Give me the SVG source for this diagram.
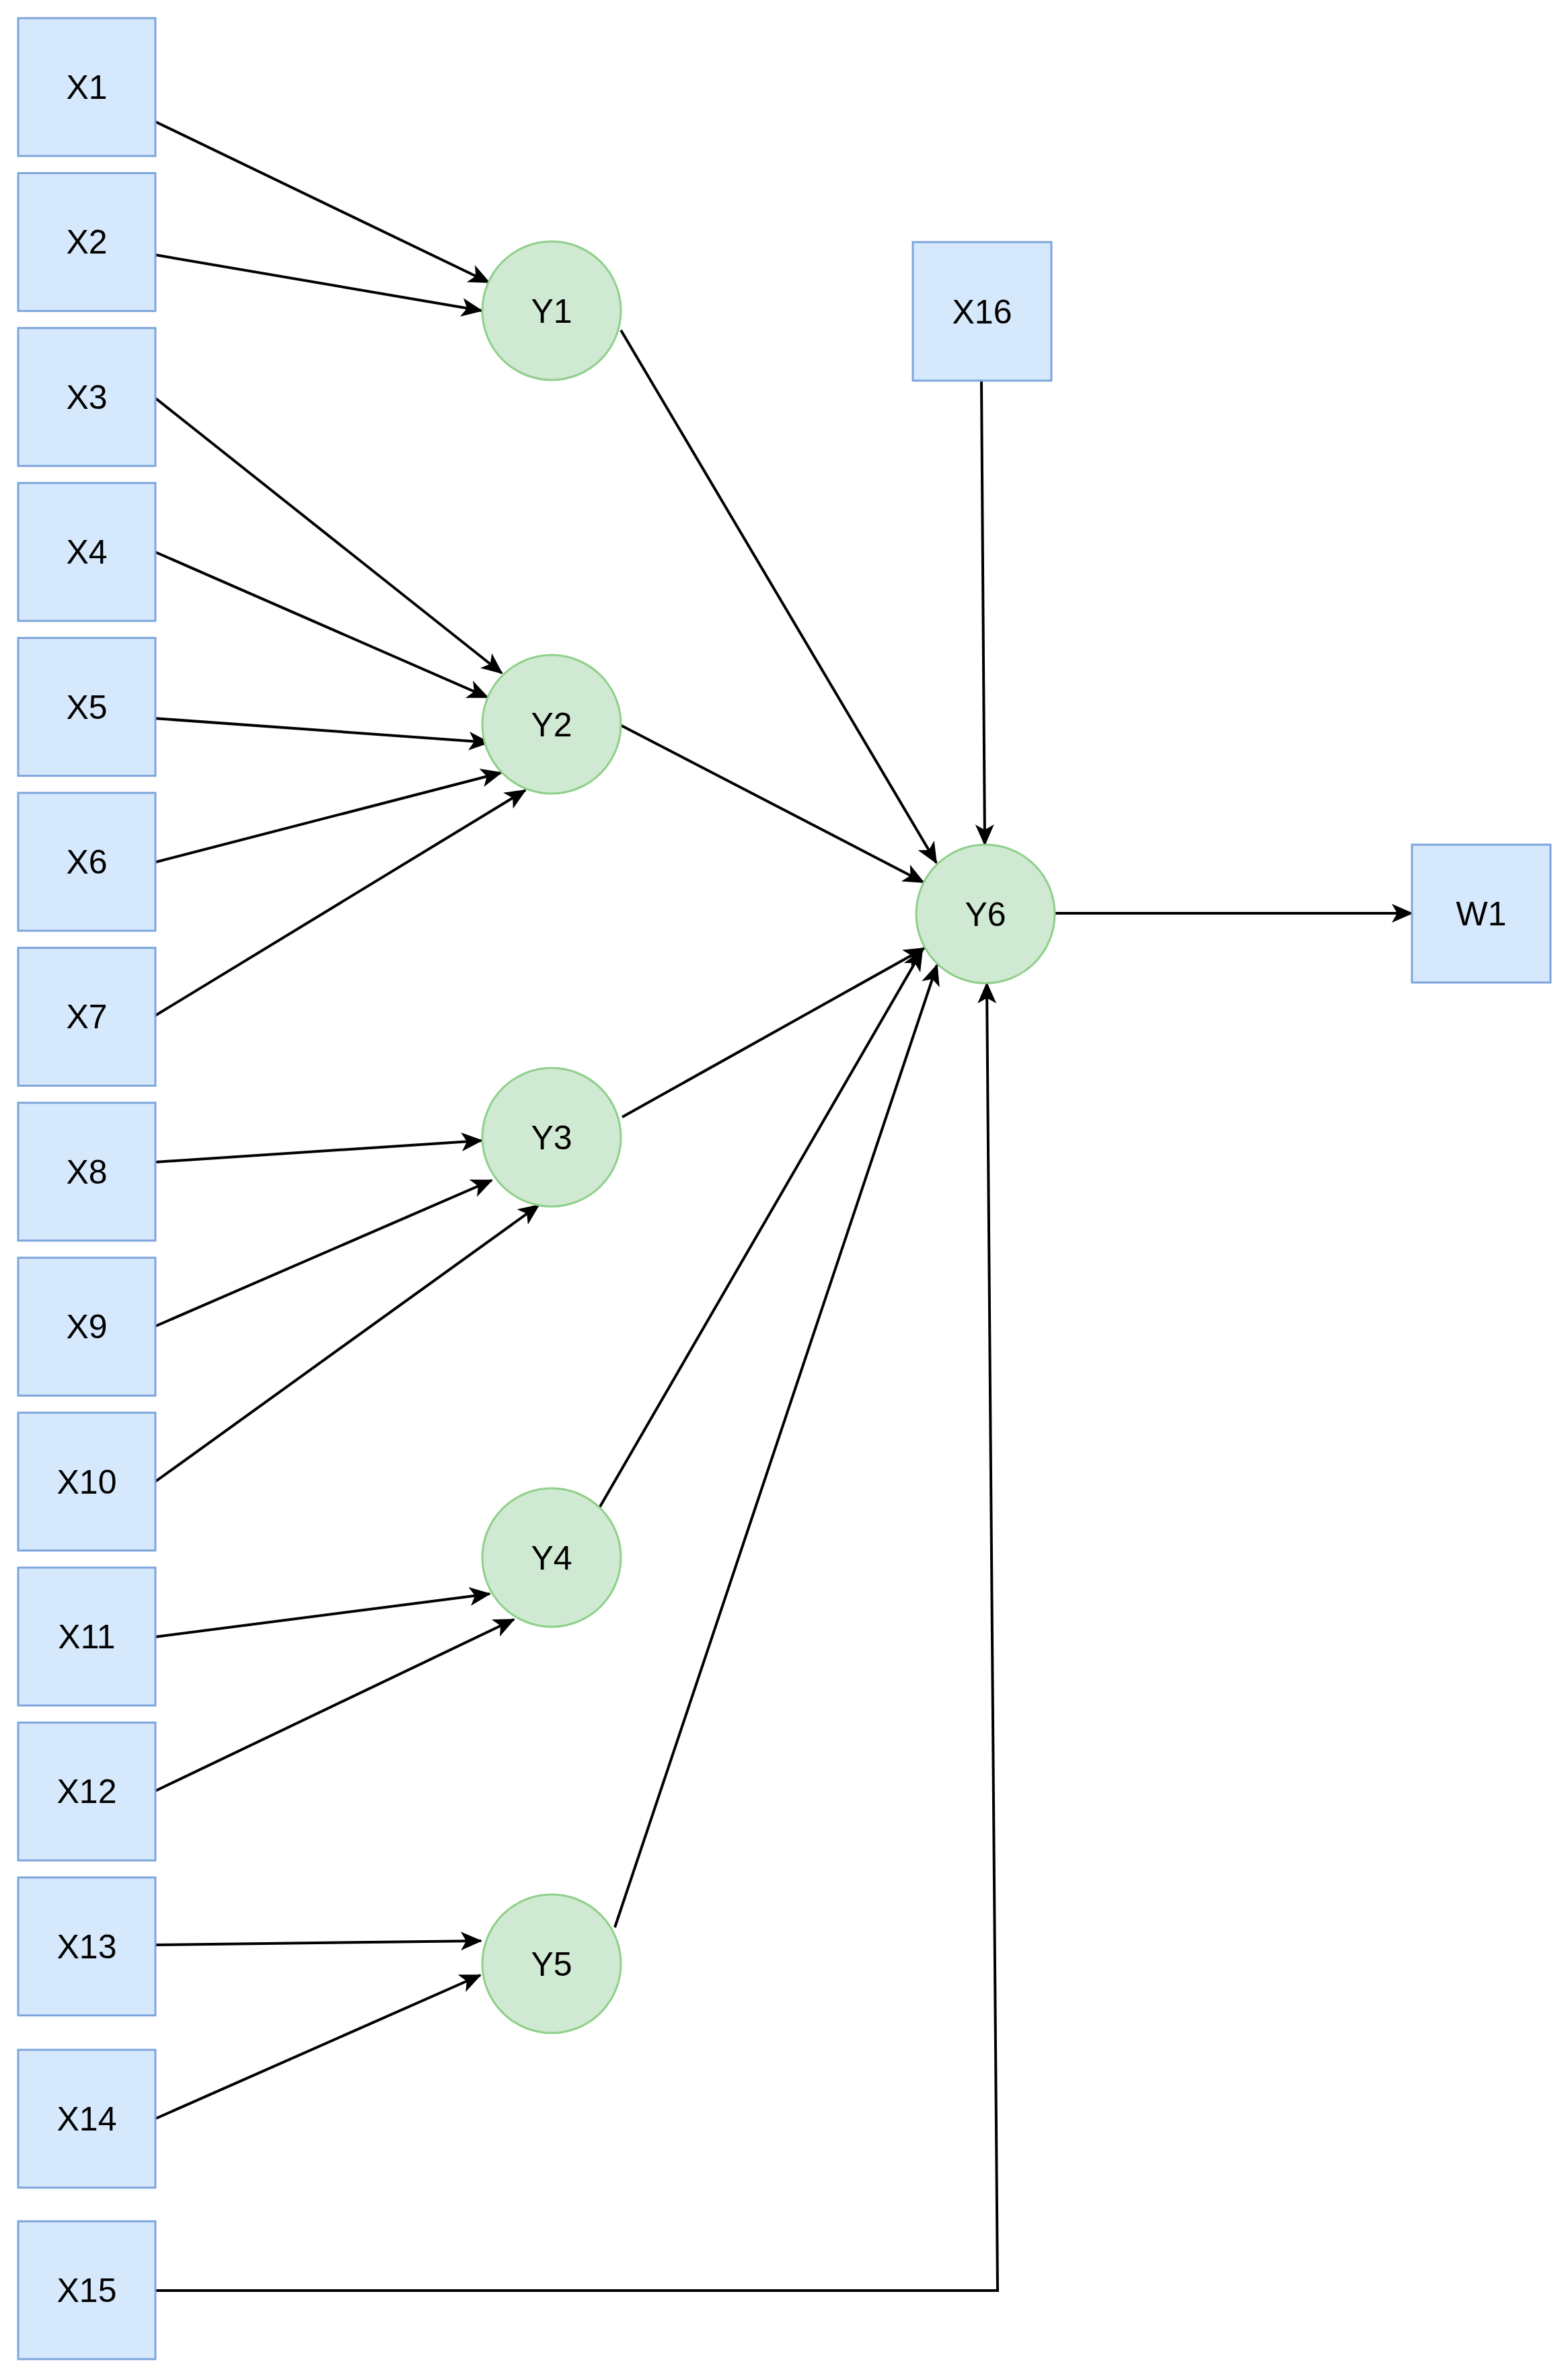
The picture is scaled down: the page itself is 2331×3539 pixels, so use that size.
<svg xmlns="http://www.w3.org/2000/svg" width="2331" height="3539" viewBox="0 0 2331 3539">
<style>
.box{fill:#d6e8fc;stroke:#7ea6dc;stroke-width:3}
.circ{fill:#d0e9d3;stroke:#8fd08a;stroke-width:3}
.lbl{font-family:"Liberation Sans",Arial,sans-serif;font-size:50px;fill:#000;text-anchor:middle}
.edge{fill:none;stroke:#000;stroke-width:4;marker-end:url(#arr)}
</style>
<defs>
<marker id="arr" markerUnits="userSpaceOnUse" viewBox="0 0 32 30" refX="30" refY="15" markerWidth="32" markerHeight="30" orient="auto">
<path d="M0,1 L32,15 L0,29 L8,15 Z" fill="#000"/>
</marker>
</defs>
<rect width="2331" height="3539" fill="#fff"/>
<g id="connectors">
<path class="edge" d="M231,181 L727,420"/>
<path class="edge" d="M231,379 L716,462"/>
<path class="edge" d="M231,592 L746,1001"/>
<path class="edge" d="M231,821 L725,1037"/>
<path class="edge" d="M228,1068 L727,1104"/>
<path class="edge" d="M231,1282 L745,1149"/>
<path class="edge" d="M231,1510 L781,1175"/>
<path class="edge" d="M231,1728 L716,1696"/>
<path class="edge" d="M231,1972 L731,1755"/>
<path class="edge" d="M231,2203 L801,1792"/>
<path class="edge" d="M231,2434 L728,2370"/>
<path class="edge" d="M231,2663 L764,2408"/>
<path class="edge" d="M231,2892 L715,2886"/>
<path class="edge" d="M232,3150 L714,2937"/>
<path class="edge" d="M231,3406 L1483,3406 L1467,1462"/>
<path class="edge" d="M1459,566 L1464,1256"/>
<path class="edge" d="M923,491 L1392,1283"/>
<path class="edge" d="M922,1078 L1373,1312"/>
<path class="edge" d="M925,1661 L1374,1410"/>
<path class="edge" d="M891,2242 L1371,1413"/>
<path class="edge" d="M914,2866 L1393,1435"/>
<path class="edge" d="M1568,1358 L2099,1358"/>
</g>
<g id="X1"><rect class="box" x="27" y="27" width="204" height="205"/><text class="lbl" x="129" y="147">X1</text></g>
<g id="X2"><rect class="box" x="27" y="257.4" width="204" height="205"/><text class="lbl" x="129" y="377.4">X2</text></g>
<g id="X3"><rect class="box" x="27" y="487.8" width="204" height="205"/><text class="lbl" x="129" y="607.8">X3</text></g>
<g id="X4"><rect class="box" x="27" y="718.2" width="204" height="205"/><text class="lbl" x="129" y="838.2">X4</text></g>
<g id="X5"><rect class="box" x="27" y="948.6" width="204" height="205"/><text class="lbl" x="129" y="1068.6">X5</text></g>
<g id="X6"><rect class="box" x="27" y="1179" width="204" height="205"/><text class="lbl" x="129" y="1299">X6</text></g>
<g id="X7"><rect class="box" x="27" y="1409.4" width="204" height="205"/><text class="lbl" x="129" y="1529.4">X7</text></g>
<g id="X8"><rect class="box" x="27" y="1639.8" width="204" height="205"/><text class="lbl" x="129" y="1759.8">X8</text></g>
<g id="X9"><rect class="box" x="27" y="1870.2" width="204" height="205"/><text class="lbl" x="129" y="1990.2">X9</text></g>
<g id="X10"><rect class="box" x="27" y="2100.6" width="204" height="205"/><text class="lbl" x="129" y="2220.6">X10</text></g>
<g id="X11"><rect class="box" x="27" y="2331" width="204" height="205"/><text class="lbl" x="129" y="2451">X11</text></g>
<g id="X12"><rect class="box" x="27" y="2561.4" width="204" height="205"/><text class="lbl" x="129" y="2681.4">X12</text></g>
<g id="X13"><rect class="box" x="27" y="2791.8" width="204" height="205"/><text class="lbl" x="129" y="2911.8">X13</text></g>
<g id="X14"><rect class="box" x="27" y="3048" width="204" height="205"/><text class="lbl" x="129" y="3168">X14</text></g>
<g id="X15"><rect class="box" x="27" y="3303" width="204" height="205"/><text class="lbl" x="129" y="3423">X15</text></g>
<g id="X16"><rect class="box" x="1357" y="360" width="206" height="206"/><text class="lbl" x="1460" y="481">X16</text></g>
<g id="W1"><rect class="box" x="2099" y="1256" width="206" height="205"/><text class="lbl" x="2202" y="1376">W1</text></g>
<g id="Y1"><circle class="circ" cx="820" cy="462" r="103"/><text class="lbl" x="820" y="480">Y1</text></g>
<g id="Y2"><circle class="circ" cx="820" cy="1077" r="103"/><text class="lbl" x="820" y="1095">Y2</text></g>
<g id="Y3"><circle class="circ" cx="820" cy="1691" r="103"/><text class="lbl" x="820" y="1709">Y3</text></g>
<g id="Y4"><circle class="circ" cx="820" cy="2316" r="103"/><text class="lbl" x="820" y="2334">Y4</text></g>
<g id="Y5"><circle class="circ" cx="820" cy="2920" r="103"/><text class="lbl" x="820" y="2938">Y5</text></g>
<g id="Y6"><circle class="circ" cx="1465" cy="1359" r="103"/><text class="lbl" x="1465" y="1377">Y6</text></g>
</svg>
